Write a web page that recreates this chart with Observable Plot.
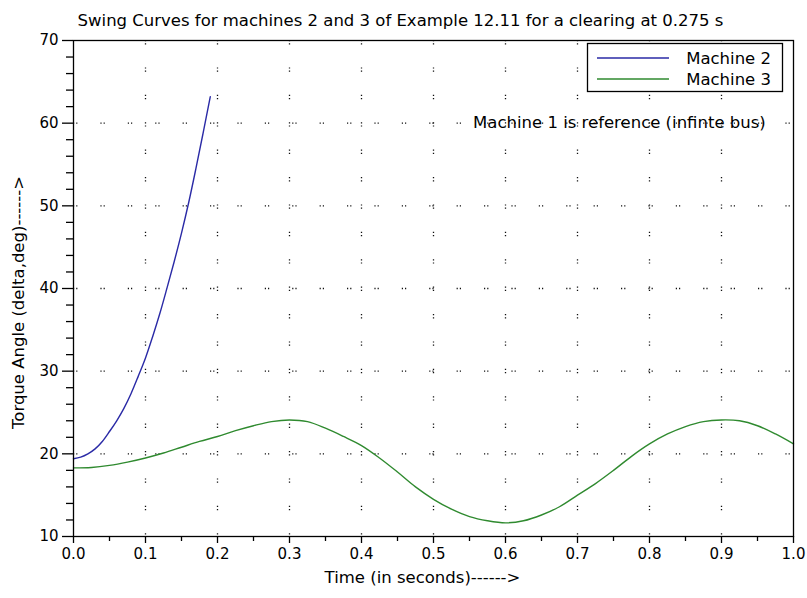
<!DOCTYPE html>
<html>
<head>
<meta charset="utf-8">
<script src="https://cdn.jsdelivr.net/npm/d3@7"></script>
<script src="https://cdn.jsdelivr.net/npm/@observablehq/plot@0.6"></script>
<style>
  html, body { margin: 0; padding: 0; background: #fff; }
  #chart { width: 807px; height: 598px; }
</style>
</head>
<body>
<div id="chart"></div>
<script>
// ---- data ----
const title = "Swing Curves for machines 2 and 3 of Example 12.11 for a clearing at 0.275 s";
const xLabel = "Time (in seconds)------>";
const yLabel = "Torque Angle (delta,deg)------>";
const note = "Machine 1 is reference (infinte bus)";
const noteX = 0.555;
const noteY = 60;
const seriesNames = ["Machine 2", "Machine 3"];

const t2 = [0, 0.01, 0.02, 0.03, 0.04, 0.05, 0.06, 0.07, 0.08, 0.09, 0.10,
            0.11, 0.12, 0.13, 0.14, 0.15, 0.16, 0.17, 0.18, 0.19];
const delta2 = [19.4, 19.6, 20.0, 20.6, 21.5, 22.7, 24.0, 25.5, 27.3, 29.4, 31.6,
                34.2, 37.0, 40.1, 43.3, 46.7, 50.4, 54.5, 58.8, 63.2];

const t3 = [0, 0.025, 0.05, 0.075, 0.1, 0.125, 0.15, 0.175, 0.2, 0.225, 0.25,
            0.275, 0.3, 0.325, 0.35, 0.375, 0.4, 0.425, 0.45, 0.475, 0.5,
            0.525, 0.55, 0.575, 0.6, 0.625, 0.65, 0.675, 0.7, 0.725, 0.75,
            0.775, 0.8, 0.825, 0.85, 0.875, 0.9, 0.925, 0.95, 0.975, 1.0];
const delta3 = [18.3, 18.35, 18.6, 19.0, 19.5, 20.1, 20.8, 21.5, 22.1, 22.8, 23.4,
                23.9, 24.1, 23.9, 23.1, 22.1, 21.0, 19.5, 17.8, 16.0, 14.5,
                13.3, 12.4, 11.9, 11.65, 11.9, 12.6, 13.6, 15.0, 16.4, 18.0,
                19.7, 21.2, 22.4, 23.3, 23.9, 24.1, 24.0, 23.4, 22.4, 21.2];

const xMajor = [0, 0.1, 0.2, 0.3, 0.4, 0.5, 0.6, 0.7, 0.8, 0.9, 1.0];
const xMinor = [0.05, 0.15, 0.25, 0.35, 0.45, 0.55, 0.65, 0.75, 0.85, 0.95];
const yMajor = [10, 20, 30, 40, 50, 60, 70];
const yMinor = [12, 14, 16, 18, 22, 24, 26, 28, 32, 34, 36, 38, 42, 44, 46, 48, 52, 54, 56, 58, 62, 64, 66, 68];
const xGrid = [0.1, 0.2, 0.3, 0.4, 0.5, 0.6, 0.7, 0.8, 0.9];
const yGrid = [20, 30, 40, 50, 60];

const colors = ["#2a2aa6", "#2f8a2f"];

// ---- build ----
const rows2 = t2.map((t, i) => ({t, d: delta2[i]}));
const rows3 = t3.map((t, i) => ({t, d: delta3[i]}));

const font = "DejaVu Sans, sans-serif";
const fs = 15;     // tick labels
const fsL = 16.5;  // title, axis labels, annotation, legend

const plot = Plot.plot({
  width: 807,
  height: 598,
  marginTop: 40,
  marginBottom: 62,
  marginLeft: 73,
  marginRight: 14,
  style: {fontFamily: font, fontSize: fs + "px", background: "#fff", color: "#000"},
  x: {domain: [0, 1], axis: null},
  y: {domain: [10, 70], axis: null},
  marks: [
    Plot.ruleX(xGrid, {stroke: "#111", strokeWidth: 1.3, strokeDasharray: "1.2,2,1.2,23"}),
    Plot.ruleY(yGrid, {stroke: "#111", strokeWidth: 1.3, strokeDasharray: "1.2,2,1.2,23"}),
    Plot.text([note], {x: () => noteX, y: () => noteY, textAnchor: "start", fontSize: fsL, fill: "#000"}),
    Plot.line(rows2, {x: "t", y: "d", stroke: colors[0], strokeWidth: 1.4, curve: "catmull-rom"}),
    Plot.line(rows3, {x: "t", y: "d", stroke: colors[1], strokeWidth: 1.4, curve: "catmull-rom"}),
    Plot.frame({stroke: "#000", strokeWidth: 1.3}),
    Plot.axisX({ticks: xMajor, tickSize: 7, tickPadding: 5, tickFormat: d3.format(".1f"), label: null, fontSize: fs, stroke: "#000", strokeWidth: 1.3, fill: "#000"}),
    Plot.axisX({ticks: xMinor, tickSize: 5, tickFormat: () => "", label: null, stroke: "#000", strokeWidth: 1.3}),
    Plot.axisY({ticks: yMajor, tickSize: 11, tickPadding: 4, tickFormat: d3.format("d"), label: null, fontSize: fs, stroke: "#000", strokeWidth: 1.3, fill: "#000"}),
    Plot.axisY({ticks: yMinor, tickSize: 7, tickFormat: () => "", label: null, stroke: "#000", strokeWidth: 1.3}),
    Plot.text([title], {frameAnchor: "top", dy: -26, dx: -33, fontSize: fsL, fill: "#000"}),
    Plot.text([xLabel], {frameAnchor: "bottom", dy: 46, dx: -11, fontSize: fsL, fill: "#000"}),
    Plot.text([yLabel], {frameAnchor: "left", textAnchor: "middle", rotate: -90, dx: -55, dy: 14, fontSize: fsL, fill: "#000"})
  ]
});

// legend box (top-right, inside the frame)
const svg = d3.select(plot);
const lg = svg.append("g").attr("font-family", font).attr("font-size", fsL);
lg.append("rect").attr("x", 587.5).attr("y", 43.5).attr("width", 195).attr("height", 48)
  .attr("fill", "#fff").attr("stroke", "#000").attr("stroke-width", 1.3);
seriesNames.forEach((name, i) => {
  const y = 58 + i * 21;
  lg.append("line").attr("x1", 597).attr("x2", 669).attr("y1", y).attr("y2", y)
    .attr("stroke", colors[i]).attr("stroke-width", 1.4);
  lg.append("text").attr("x", 771).attr("y", y).attr("dy", "0.35em")
    .attr("text-anchor", "end").attr("fill", "#000").text(name);
});

document.getElementById("chart").appendChild(plot);
</script>
</body>
</html>
